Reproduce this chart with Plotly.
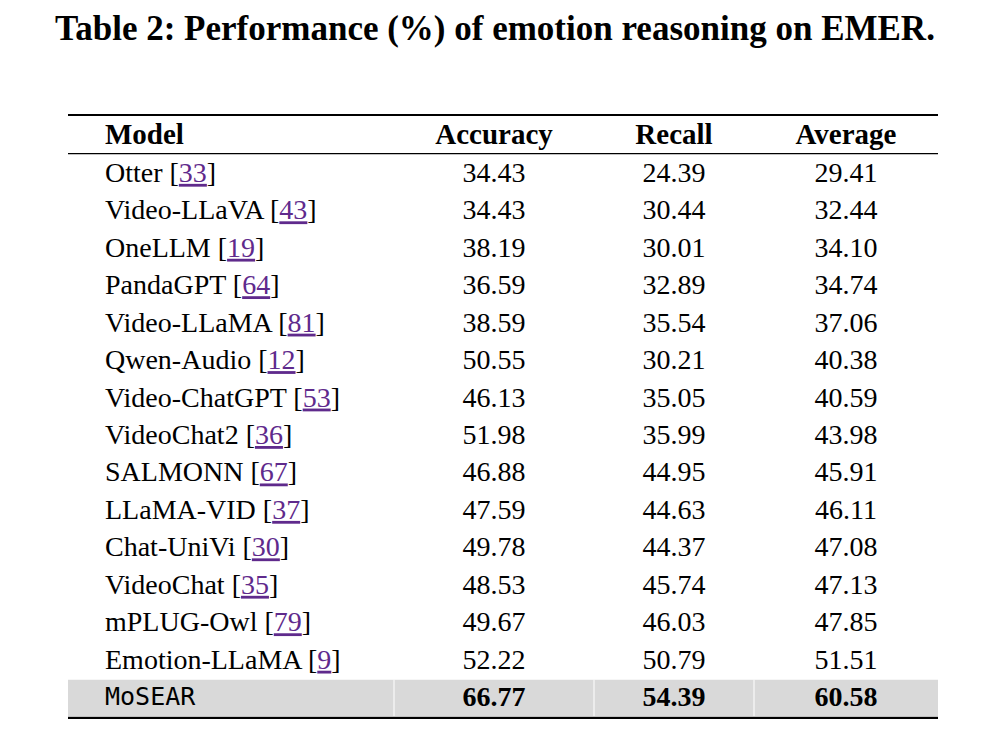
import plotly.graph_objects as go

# table content
headers = ["Model", "Accuracy", "Recall", "Average"]
models = ["Otter", "Video-LLaVA", "OneLLM", "PandaGPT", "Video-LLaMA", "Qwen-Audio",
          "Video-ChatGPT", "VideoChat2", "SALMONN", "LLaMA-VID", "Chat-UniVi",
          "VideoChat", "mPLUG-Owl", "Emotion-LLaMA", "MoSEAR"]
cites = [33, 43, 19, 64, 81, 12, 53, 36, 67, 37, 30, 35, 79, 9, None]
accuracy = [34.43, 34.43, 38.19, 36.59, 38.59, 50.55, 46.13, 51.98, 46.88, 47.59,
            49.78, 48.53, 49.67, 52.22, 66.77]
recall = [24.39, 30.44, 30.01, 32.89, 35.54, 30.21, 35.05, 35.99, 44.95, 44.63,
          44.37, 45.74, 46.03, 50.79, 54.39]
average = [29.41, 32.44, 34.10, 34.74, 37.06, 40.38, 40.59, 43.98, 45.91, 46.11,
           47.08, 47.13, 47.85, 51.51, 60.58]

title = "Table 2: Performance (%) of emotion reasoning on EMER."

# layout constants (x in page pixels, y in row units)
W, H = 990, 744
PAGE_PAD = 8  # body margin of the page around the plot
ROW0_PX, ROW_PX = 173, 37.45
TEXT_DY = 0.05  # nudge text down a little inside its row
X_LEFT, X_RIGHT = 68, 938
X_MODEL = 105
X_COLS = [494, 674, 846]
COL_EDGES = [394, 594, 754]
SERIF = "Liberation Serif"
MONO = "DejaVu Sans Mono"
CITE = "#5f2a8c"
ULINE = "#3a7bd0"


def cite_label(name, c):
    if c is None:
        return name
    return (f'{name} [<span style="color:{CITE};text-decoration:underline;'
            f'text-decoration-color:{ULINE}">{c}</span>]')


n = len(models)
body = list(range(n - 1))
ours = n - 1
rows = list(range(n))
cols = [accuracy, recall, average]
header_y = -1.03 + TEXT_DY

fig = go.Figure()

# header
fig.add_trace(go.Scatter(
    x=[X_MODEL], y=[header_y], mode="text", text=[f"<b>{headers[0]}</b>"],
    textposition="middle right", textfont=dict(family=SERIF, size=29, color="black"),
    hoverinfo="skip"))
fig.add_trace(go.Scatter(
    x=X_COLS, y=[header_y] * 3, mode="text", text=[f"<b>{h}</b>" for h in headers[1:]],
    textposition="middle center", textfont=dict(family=SERIF, size=29, color="black"),
    hoverinfo="skip"))

# model names
fig.add_trace(go.Scatter(
    x=[X_MODEL] * len(body), y=[i + TEXT_DY for i in body], mode="text",
    text=[cite_label(models[i], cites[i]) for i in body],
    textposition="middle right", textfont=dict(family=SERIF, size=28, color="black"),
    hoverinfo="skip"))
fig.add_trace(go.Scatter(
    x=[X_MODEL], y=[ours + TEXT_DY], mode="text", text=[models[ours]],
    textposition="middle right", textfont=dict(family=MONO, size=25, color="black"),
    hoverinfo="skip"))

# values
for xc, vals in zip(X_COLS, cols):
    fig.add_trace(go.Scatter(
        x=[xc] * n, y=[i + TEXT_DY for i in rows], mode="text",
        text=[f"{vals[i]:.2f}" if i != ours else f"<b>{vals[i]:.2f}</b>" for i in rows],
        textposition="middle center", textfont=dict(family=SERIF, size=28, color="black"),
        hoverinfo="skip"))

shapes = [
    # highlighted row
    dict(type="rect", xref="x", yref="y", x0=X_LEFT, x1=X_RIGHT, y0=ours - 0.47, y1=ours + 0.5,
         fillcolor="#d9d9d9", line_width=0, layer="below"),
]
for xe in COL_EDGES:
    shapes.append(dict(type="line", xref="x", yref="y", x0=xe, x1=xe, y0=ours - 0.47,
                       y1=ours + 0.5, line=dict(color="white", width=1), layer="below"))
shapes += [
    dict(type="line", xref="x", yref="y", x0=X_LEFT, x1=X_RIGHT, y0=-1.55, y1=-1.55,
         line=dict(color="black", width=2)),
    dict(type="line", xref="x", yref="y", x0=X_LEFT, x1=X_RIGHT, y0=-0.52, y1=-0.52,
         line=dict(color="black", width=1.2)),
    dict(type="line", xref="x", yref="y", x0=X_LEFT, x1=X_RIGHT, y0=ours + 0.55,
         y1=ours + 0.55, line=dict(color="black", width=2.2)),
]

fig.update_layout(
    width=W, height=H,
    margin=dict(l=0, r=0, t=0, b=0),
    paper_bgcolor="white", plot_bgcolor="white",
    showlegend=False,
    title=dict(text=f"<b>{title}</b>", x=0.5 - PAGE_PAD / W, xanchor="center",
               y=1 - (28 - PAGE_PAD) / H, yanchor="middle",
               font=dict(family=SERIF, size=35, color="black")),
    xaxis=dict(range=[PAGE_PAD, W + PAGE_PAD], visible=False, fixedrange=True),
    yaxis=dict(range=[(H + PAGE_PAD - ROW0_PX) / ROW_PX, -(ROW0_PX - PAGE_PAD) / ROW_PX],
               visible=False, fixedrange=True),
    shapes=shapes,
)

fig.write_html("out.html")
